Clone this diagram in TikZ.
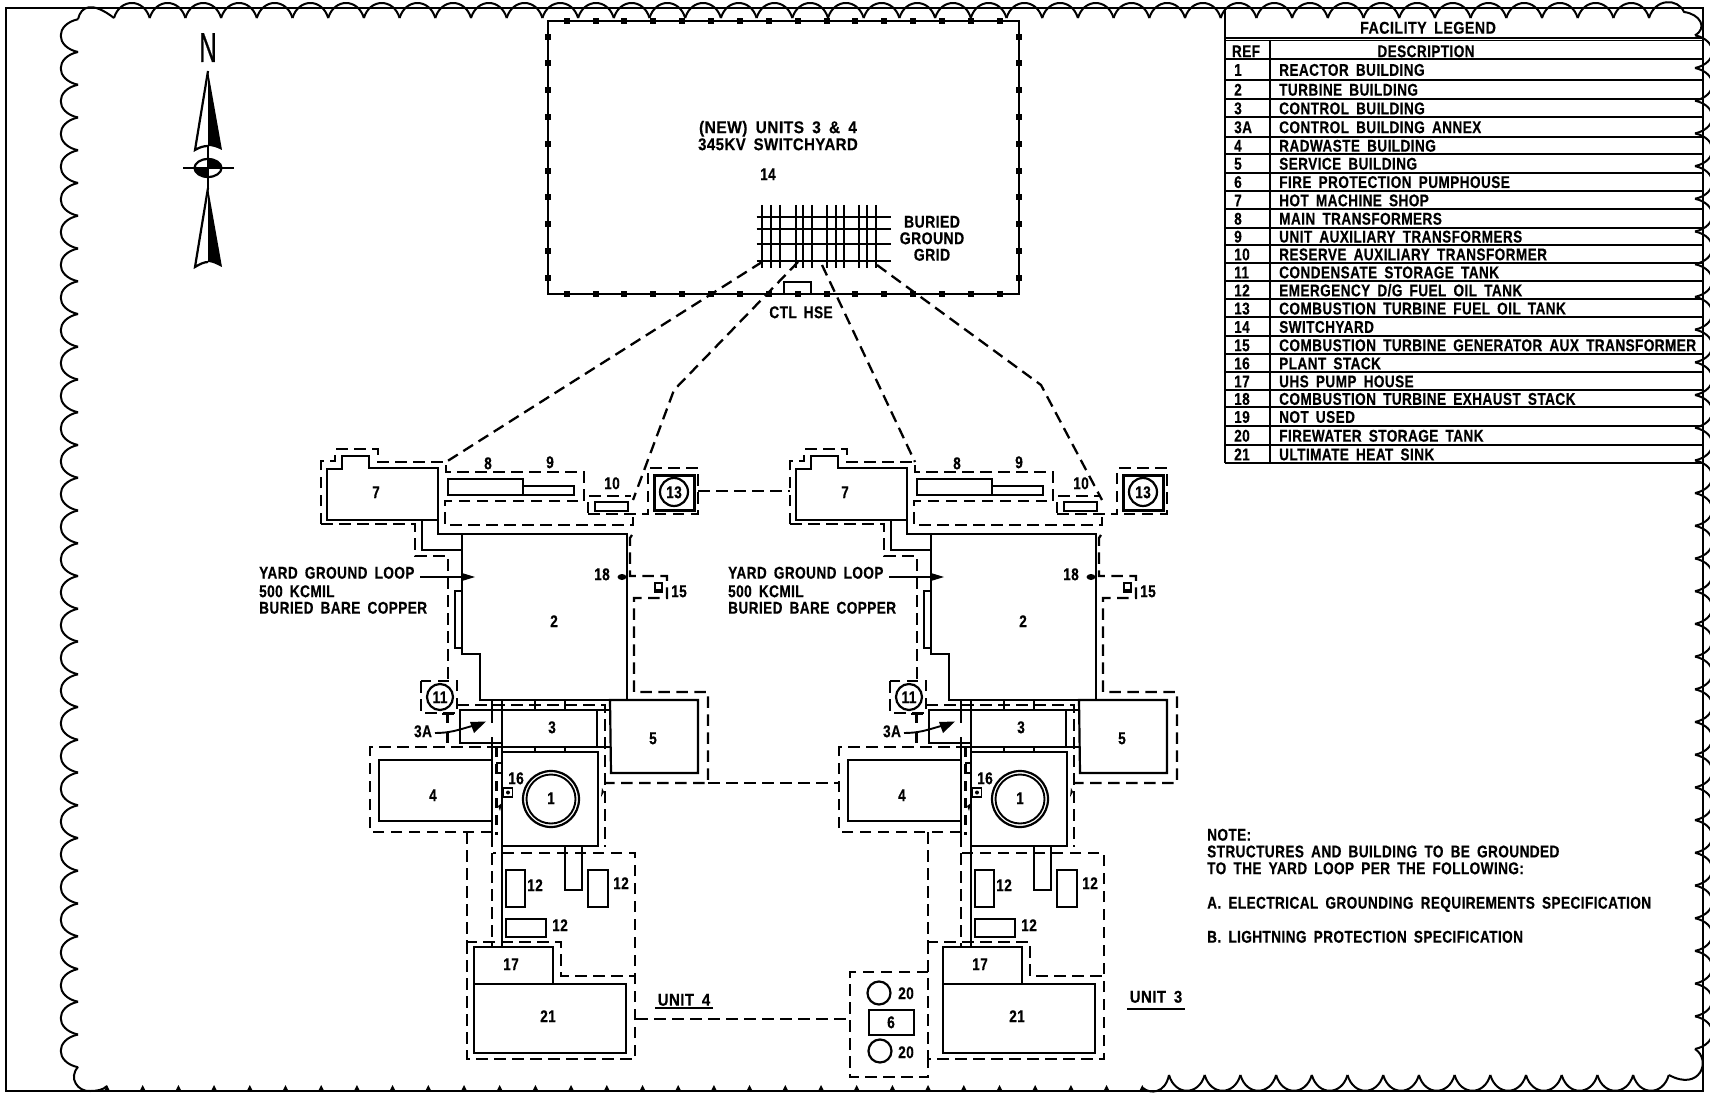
\documentclass[tikz,border=0pt]{standalone}
\usepackage{fontspec}
\newfontfamily\cadfont[FakeStretch=0.8,WordSpace=1.7,LetterSpace=2.5,FakeBold=0.4]{Liberation Sans}
\tikzset{
  txt/.style={inner sep=0pt,text height=12.3pt,text depth=0pt,font=\cadfont\bfseries\fontsize{17}{17}\selectfont},
  solid line/.style={line width=2.2pt,line join=miter},
  dash line/.style={line width=2.3pt,dash pattern=on 11.5pt off 6.5pt},
  thin line/.style={line width=1.9pt},
  cloud line/.style={line width=2pt,line join=round},
  fence/.style={fill=black,draw=none}
}
\newcommand{\lab}[4]{\node[txt] (\upre#1) at (#2,#3) {#4};}
\newcommand{\wlab}[5]{\node[txt] (\upre#1) at (#2,#3) {\scalebox{#5}[1]{#4}};}
\newcommand{\lrow}[4]{%
  \draw[thin line] (1225,#2) -- (1704,#2);
  \node[txt,anchor=west] (ref#3) at (1234,{(#1+#2)/2}) {#3};
  \node[txt,anchor=west] (desc#3) at (1279,{(#1+#2)/2}) {#4};}
\newcommand{\unitdraw}[1]{%
  % turbine building etc
  \draw[solid line] (327,469)--(342,469)--(342,456)--(369,456)--(369,468)--(438,468)--(438,520)--(327,520)--cycle;
  \draw[solid line] (422,520)--(422,550)--(462,550);
  \draw[solid line] (438,520)--(438,534)--(462,534);
  \draw[solid line] (462,534)--(627,534)--(627,700)--(480,700)--(480,654)--(462,654)--cycle;
  \draw[thin line] (462,591)--(455,591)--(455,648)--(462,648);
  % 7 and transformer yard dashed
  \draw[dash line] (321,524)--(321,461)--(335,461)--(335,449)--(378,449)--(378,462)--(446,462)--(446,472)--(584,472)--(584,501)--(445,501)--(445,525)--(633,525)--(633,513);
  \draw[dash line] (321,524)--(415,524)--(415,556)--(448,556)--(448,681);
  \draw[solid line] (448,479) rectangle (523,495);
  \draw[solid line] (523,486) rectangle (574,495);
  \draw[dash line] (588,513)--(588,496)--(631,496);
  \draw[dash line] (588,514)--(648,514)--(648,468)--(698,468)--(698,514)--(654,514);
  \draw[solid line] (595,502) rectangle (628,511);
  \draw[line width=3pt] (654,475) rectangle (694,510);
  \draw[solid line] (674,492) circle[radius=14pt];
  % 18 and arrow
  \fill (622,577) ellipse[x radius=4.5pt,y radius=3pt];
  \draw[solid line] (420,577)--(462,577);
  \fill (462,573)--(475,577)--(462,581)--cycle;
  % 15
  \draw[dash line] (632,535)--(630,538)--(630,576)--(667,576)--(667,598)--(634,598)--(634,692)--(708,692)--(708,783)--(604,783);
  \draw[thin line] (655,583) rectangle (662,590);
  \draw[thin line] (654,592)--(663,592);
  % 11
  \draw[dash line] (421,681) rectangle (457,713);
  \draw[solid line] (440,697) circle[radius=13pt];
  \draw[dash line] (457,705)--(605,705)--(605,847);
  \draw[solid line] (442,714)--(454,714);
  \draw[solid line] (447.5,714)--(447.5,723);
  \draw[solid line] (447.5,733)--(447.5,743);
  % control building
  \draw[solid line] (502,710)--(460,710)--(460,743)--(502,743);
  \draw[solid line] (503,710)--(610,710);
  \draw[solid line] (490,747)--(610,747);
  \draw[solid line] (597,710)--(597,747);
  \draw[solid line] (535,700)--(535,710);
  \draw[solid line] (565,700)--(565,710);
  \draw[solid line] (535,747)--(535,752);
  \draw[solid line] (565,747)--(565,752);
  \draw[solid line] (492,700)--(492,723);
  \draw[solid line] (492,737)--(492,835);
  \draw[dash line] (492,835)--(492,947);
  \draw[dash line,dash pattern=on 10pt off 7pt] (496.5,747)--(496.5,835);
  \draw[solid line] (502,700)--(502,947);
  \draw[thin line] (435,733) .. controls (450,733) and (458,730) .. (472,726);
  \fill (486,721.5)--(474,733)--(470,722)--cycle;
  % service building
  \draw[solid line] (610,700)--(698,700)--(698,773)--(611,773)--cycle;
  % reactor
  \draw[solid line] (502,752) rectangle (598,846);
  \draw[solid line] (551,799) circle[radius=28pt];
  \draw[thin line] (551,799) circle[radius=24.5pt];
  \draw[thin line] (503.5,788) rectangle (512.5,797);
  \fill (508,792.5) circle[radius=2pt];
  \draw[thin line] (502,763)--(497,763)--(497,773)--(502,773);
  \fill (602,788)--(601,797)--(604,792)--cycle;
  \fill (502,803)--(498,806)--(500,811)--cycle;
  % radwaste
  \draw[solid line] (379,760) rectangle (492,821);
  \draw[dash line] (492,832)--(370,832)--(370,747)--(495,747);
  % yard lines
  \draw[dash line] (#1,832)--(#1,942)--(561,942)--(561,976)--(635,976);
  \draw[dash line] (#1,942)--(#1,1059)--(635,1059)--(635,853)--(493,853);
  % stack and tanks
  \draw[solid line] (565,846)--(565,890)--(582,890)--(582,846);
  \draw[solid line] (506,870) rectangle (525,907);
  \draw[solid line] (588,870) rectangle (608,907);
  \draw[solid line] (506,919) rectangle (546,937);
  % UHS
  \draw[solid line] (474,984)--(474,947)--(553,947)--(553,984);
  \draw[solid line] (474,984) rectangle (626,1053);
  % labels
  \lab{seven}{376}{492}{7}
  \lab{eight}{488}{463}{8}
  \lab{nine}{550}{462}{9}
  \lab{ten}{612}{483}{10}
  \lab{thirteen}{674}{492}{13}
  \lab{two}{554}{621}{2}
  \lab{eighteen}{602}{574}{18}
  \lab{fifteen}{679}{591}{15}
  \lab{eleven}{440}{697}{11}
  \lab{threeA}{423}{731}{3A}
  \lab{three}{552}{727}{3}
  \lab{five}{653}{738}{5}
  \lab{one}{551}{798}{1}
  \lab{sixteen}{516}{778}{16}
  \lab{four}{433}{795}{4}
  \lab{twelveA}{535}{885}{12}
  \lab{twelveB}{621}{883}{12}
  \lab{twelveC}{560}{925}{12}
  \lab{seventeen}{511}{964}{17}
  \lab{twentyone}{548}{1016}{21}
  \node[txt,anchor=west] (\upre yarda) at (259,572.5) {YARD GROUND LOOP};
  \node[txt,anchor=west] (\upre yardb) at (259,591) {500 KCMIL};
  \node[txt,anchor=west] (\upre yardc) at (259,607.5) {BURIED BARE COPPER};
}
\begin{document}
\begin{tikzpicture}[x=1pt,y=-1pt]
\useasboundingbox (0,0) rectangle (1710,1094);
\fill[white] (0,0) rectangle (1710,1094);
% sheet border
\draw[thin line] (6,8) rectangle (1703,1091);
% revision cloud
\foreach \k in {-1,...,30}{
  \pgfmathsetmacro\yy{52+32.75*\k}
  \pgfmathsetmacro\yc{\yy+5}
  \pgfmathsetmacro\yd{\yy+27.75}
  \pgfmathsetmacro\ye{\yy+32.75}
  \draw[cloud line] (78,\yy) .. controls (55,\yc) and (55,\yd) .. (78,\ye);
}
\draw[cloud line] (78,19.25) .. controls (81,6) and (92,1) .. (114,18);
\foreach \k in {0,...,42}{
  \pgfmathsetmacro\xx{114+35.7*\k}
  \pgfmathsetmacro\xc{\xx+6}
  \pgfmathsetmacro\xd{\xx+29.7}
  \pgfmathsetmacro\xe{\xx+35.7}
  \draw[cloud line] (\xx,18) .. controls (\xc,-2) and (\xd,-2) .. (\xe,18);
}
\draw[cloud line] (1649,18) .. controls (1655,-2) and (1678,-2) .. (1684,12) .. controls (1700,14) and (1708,28) .. (1695,35.3);
\foreach \k in {0,...,30}{
  \pgfmathsetmacro\yy{35.3+32.7*\k}
  \pgfmathsetmacro\yc{\yy+5}
  \pgfmathsetmacro\yd{\yy+27.7}
  \pgfmathsetmacro\ye{\yy+32.7}
  \draw[cloud line] (1695,\yy) .. controls (1718,\yc) and (1718,\yd) .. (1695,\ye);
}
\draw[cloud line] (1695,1049) .. controls (1712,1060) and (1700,1092) .. (1669,1075);
\foreach \k in {0,...,13}{
  \pgfmathsetmacro\xx{1169+35.7*\k}
  \pgfmathsetmacro\xc{\xx+6}
  \pgfmathsetmacro\xd{\xx+29.7}
  \pgfmathsetmacro\xe{\xx+35.7}
  \draw[cloud line] (\xx,1075) .. controls (\xc,1096) and (\xd,1096) .. (\xe,1075);
}
\draw[cloud line] (1143,1088) .. controls (1150,1094) and (1165,1094) .. (1169,1075);
\draw[cloud line] (78,1067) .. controls (68,1078) and (78,1092) .. (90,1091) .. controls (97,1091) and (103,1090) .. (107,1086);
\foreach \k in {0,...,29}{
  \pgfmathsetmacro\xx{107+35.7*\k}
  \pgfmathsetmacro\xa{\xx-3}
  \pgfmathsetmacro\xb{\xx+3}
  \fill (\xx,1085)--(\xa,1091)--(\xb,1091)--cycle;
}
% north arrow
\node[inner sep=0pt,text height=30pt,text depth=0pt,font=\cadfont\fontsize{42}{42}\selectfont] (north) at (208,47) {\scalebox{0.72}[1]{N}};
\draw[solid line] (208,71)--(195,150) .. controls (200,147) and (204,146) .. (208,146);
\fill (208,71)--(222,150) .. controls (216,147) and (212,146) .. (208,146)--cycle;
\draw[solid line] (208,188)--(195,267) .. controls (200,264) and (204,262) .. (208,262);
\fill (208,188)--(222,267) .. controls (216,264) and (212,262) .. (208,262)--cycle;
\draw[solid line] (183,168)--(234,168);
\draw[solid line] (208,146)--(208,190);
\draw[solid line] (208,168) ellipse[x radius=13.5pt,y radius=9pt];
\fill (208,168)--(194.5,168) arc[start angle=180,end angle=90,x radius=13.5pt,y radius=-9pt]--cycle;
\fill (208,168)--(221.5,168) arc[start angle=0,end angle=-90,x radius=13.5pt,y radius=-9pt]--cycle;
% switchyard
\draw[solid line] (548,21) rectangle (1019,294);
\foreach \k in {0,...,15}{
  \pgfmathsetmacro\xx{566.7+28.87*\k}
  \fill[fence] (\xx,21) +(-3,-3) rectangle +(3,3);
  \fill[fence] (\xx,294) +(-3,-3) rectangle +(3,3);
}
\foreach \k in {0,...,9}{
  \pgfmathsetmacro\yy{36.7+26.8*\k}
  \fill[fence] (548,\yy) +(-3,-3) rectangle +(3,3);
  \fill[fence] (1019,\yy) +(-3,-3) rectangle +(3,3);
}
\foreach \xx in {762.3,771,780,795.7,803.3,812.3,827.3,835.7,844.3,859.3,867.3,876}
  \draw[solid line] (\xx,205)--(\xx,268);
\foreach \yy in {216.7,229.3,244.3,261}
  \draw[solid line] (756.7,\yy)--(890.7,\yy);
\draw[solid line] (784,294)--(784,282)--(811,282)--(811,294);
\def\upre{sw}
\wlab{a}{778}{127}{(NEW) UNITS 3 \& 4}{1.14}
\wlab{b}{778}{144}{345KV SWITCHYARD}{1.1}
\lab{c}{768}{174}{14}
\wlab{d}{932}{221.5}{BURIED}{1.03}
\wlab{e}{932}{238}{GROUND}{1.03}
\wlab{f}{932}{254.5}{GRID}{1.03}
\lab{g}{801}{312}{CTL HSE}
% long ground connections
\draw[dash line] (762,262)--(446,462);
\draw[dash line] (798,262)--(674,390)--(633,500);
\draw[dash line] (822,265)--(915,462);
\draw[dash line] (877,265)--(1041,385)--(1102,500);
% units
\def\upre{ufour}
\unitdraw{467}
\begin{scope}[shift={(469,0)}]
\def\upre{uthree}
\unitdraw{459}
\end{scope}
% links between units
\draw[dash line] (698,491)--(790,491);
\draw[dash line] (708,783)--(839,783);
\draw[dash line] (636,1019)--(850,1019);
% firewater area
\draw[dash line] (928,972)--(850,972)--(850,1077)--(928,1077)--(928,1059);
\draw[solid line] (879,993) circle[radius=11.5pt];
\draw[solid line] (880,1051) circle[radius=11.5pt];
\draw[solid line] (869,1010) rectangle (914,1035);
\def\upre{fw}
\lab{a}{906}{993}{20}
\lab{b}{906}{1052}{20}
\lab{c}{891}{1022}{6}
\wlab{d}{684}{999.5}{UNIT 4}{1.1}
\wlab{e}{1156}{996.5}{UNIT 3}{1.1}
\draw[thin line] (655,1008)--(713,1008);
\draw[thin line] (1127,1009)--(1185,1009);
% legend
\draw[thin line] (1225,8)--(1225,463.3);
\draw[thin line] (1270,40)--(1270,463.3);
\draw[thin line] (1225,38)--(1704,38);
\draw[thin line] (1225,40.5)--(1704,40.5);
\draw[thin line] (1225,59.3)--(1704,59.3);
\def\upre{leg}
\wlab{title}{1428}{27.5}{FACILITY LEGEND}{1.05}
\lab{refh}{1246}{51}{REF}
\lab{desch}{1426}{51}{DESCRIPTION}
\lrow{59.3}{80}{1}{REACTOR BUILDING}
\lrow{80}{99}{2}{TURBINE BUILDING}
\lrow{99}{117.3}{3}{CONTROL BUILDING}
\lrow{117.3}{136.7}{3A}{CONTROL BUILDING ANNEX}
\lrow{136.7}{154.3}{4}{RADWASTE BUILDING}
\lrow{154.3}{172.7}{5}{SERVICE BUILDING}
\lrow{172.7}{191}{6}{FIRE PROTECTION PUMPHOUSE}
\lrow{191}{209.3}{7}{HOT MACHINE SHOP}
\lrow{209.3}{227.7}{8}{MAIN TRANSFORMERS}
\lrow{227.7}{245}{9}{UNIT AUXILIARY TRANSFORMERS}
\lrow{245}{263.3}{10}{RESERVE AUXILIARY TRANSFORMER}
\lrow{263.3}{281}{11}{CONDENSATE STORAGE TANK}
\lrow{281}{299.3}{12}{EMERGENCY D/G FUEL OIL TANK}
\lrow{299.3}{317.3}{13}{COMBUSTION TURBINE FUEL OIL TANK}
\lrow{317.3}{336}{14}{SWITCHYARD}
\lrow{336}{354}{15}{COMBUSTION TURBINE GENERATOR AUX TRANSFORMER}
\lrow{354}{372.3}{16}{PLANT STACK}
\lrow{372.3}{390}{17}{UHS PUMP HOUSE}
\lrow{390}{407.3}{18}{COMBUSTION TURBINE EXHAUST STACK}
\lrow{407.3}{426}{19}{NOT USED}
\lrow{426}{445}{20}{FIREWATER STORAGE TANK}
\lrow{445}{463.3}{21}{ULTIMATE HEAT SINK}
% note
\node[txt,anchor=west] (note1) at (1207,834.5) {NOTE:};
\node[txt,anchor=west] (note2) at (1207,851.2) {STRUCTURES AND BUILDING TO BE GROUNDED};
\node[txt,anchor=west] (note3) at (1207,868) {TO THE YARD LOOP PER THE FOLLOWING:};
\node[txt,anchor=west] (note4) at (1207,902.5) {A. ELECTRICAL GROUNDING REQUIREMENTS SPECIFICATION};
\node[txt,anchor=west] (note5) at (1207,936.5) {B. LIGHTNING PROTECTION SPECIFICATION};
\end{tikzpicture}
\end{document}
